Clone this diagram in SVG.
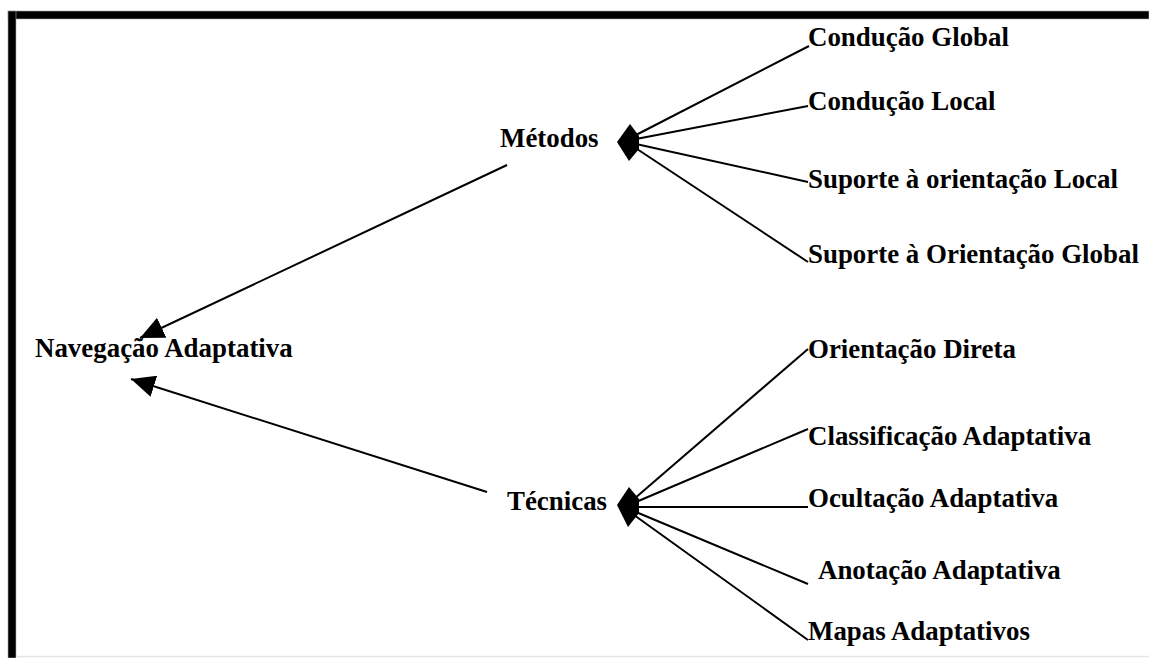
<svg xmlns="http://www.w3.org/2000/svg" width="1149" height="658" viewBox="0 0 1149 658">
  <style>
    .lbl { font-family: "Liberation Serif", "Times New Roman", serif; font-weight: bold; font-size: 26.9px; fill: #000; }
    .edge { stroke: #000; stroke-width: 2; fill: none; }
    .hub { fill: #000; }
  </style>
  <defs>
    <marker id="arrow" markerUnits="userSpaceOnUse" markerWidth="26" markerHeight="22" refX="24" refY="11" orient="auto">
      <path d="M0,0 L24,11 L0,22 Z" fill="#000"/>
    </marker>
  </defs>

  <rect x="0" y="0" width="1149" height="658" fill="#fff"/>

  <!-- frame: heavy top and left bars -->
  <g id="frame">
    <rect x="8" y="11" width="1141" height="8" fill="#000" stroke="#aaa" stroke-width="0.6"/>
    <rect x="8" y="11" width="8" height="647" fill="#000" stroke="#aaa" stroke-width="0.6"/>
    <line x1="16" y1="656.5" x2="1149" y2="656.5" stroke="#e6e6e6" stroke-width="1.5"/>
  </g>

  <!-- connectors -->
  <g id="connectors">
    <line class="edge" x1="507" y1="165" x2="140" y2="338" marker-end="url(#arrow)"/>
    <line class="edge" x1="487" y1="492" x2="131" y2="379" marker-end="url(#arrow)"/>

    <line class="edge" x1="634" y1="136" x2="809" y2="46"/>
    <line class="edge" x1="636" y1="139" x2="808" y2="106"/>
    <line class="edge" x1="636" y1="144" x2="808" y2="182"/>
    <line class="edge" x1="634" y1="147" x2="808" y2="262"/>

    <line class="edge" x1="634" y1="499" x2="808" y2="349"/>
    <line class="edge" x1="636" y1="502" x2="808" y2="429"/>
    <line class="edge" x1="636" y1="507" x2="808" y2="507"/>
    <line class="edge" x1="636" y1="512" x2="808" y2="584"/>
    <line class="edge" x1="634" y1="515" x2="808" y2="640"/>
  </g>

  <g id="navegacao">
    <text class="lbl" x="35" y="357">Navegação Adaptativa</text>
  </g>

  <g id="metodos">
    <text class="lbl" x="500" y="147">Métodos</text>
    <polygon class="hub" points="617,142 630,124 639,136 639,149 629,161"/>
  </g>

  <g id="tecnicas">
    <text class="lbl" x="507" y="510">Técnicas</text>
    <polygon class="hub" points="617,505 629,487 639,499 639,513 628,527"/>
  </g>

  <g id="conducao-global"><text class="lbl" x="808" y="46">Condução Global</text></g>
  <g id="conducao-local"><text class="lbl" x="808" y="110">Condução Local</text></g>
  <g id="suporte-local"><text class="lbl" x="808" y="188">Suporte à orientação Local</text></g>
  <g id="suporte-global"><text class="lbl" x="808" y="263">Suporte à Orientação Global</text></g>

  <g id="orientacao-direta"><text class="lbl" x="808" y="358">Orientação Direta</text></g>
  <g id="classificacao"><text class="lbl" x="808" y="445">Classificação Adaptativa</text></g>
  <g id="ocultacao"><text class="lbl" x="808" y="507">Ocultação Adaptativa</text></g>
  <g id="anotacao"><text class="lbl" x="818" y="579">Anotação Adaptativa</text></g>
  <g id="mapas"><text class="lbl" x="808" y="640">Mapas Adaptativos</text></g>
</svg>
